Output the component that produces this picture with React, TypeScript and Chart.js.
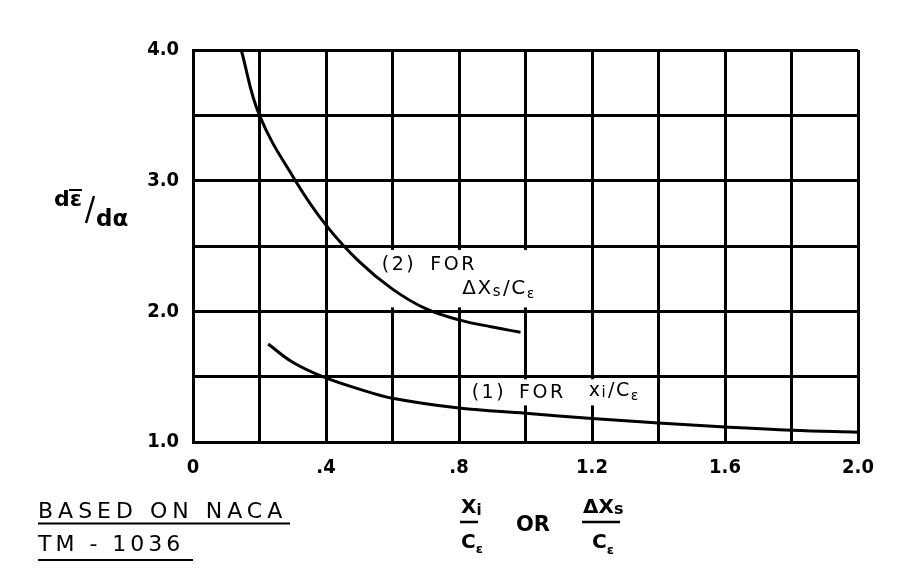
import React, { useEffect, useRef } from "react";
import { Chart, registerables } from "chart.js";

Chart.register(...registerables);

// ---- data ----
const curve2X = [0.145, 0.2, 0.308, 0.4, 0.5, 0.6, 0.7, 0.8, 0.9, 0.985];
const curve2Y = [4.0, 3.5, 3.0, 2.66, 2.38, 2.17, 2.02, 1.935, 1.88, 1.84];

const curve1X = [0.226, 0.3, 0.39, 0.5, 0.6, 0.8, 1.0, 1.2, 1.4, 1.6, 1.8, 2.0];
const curve1Y = [1.75, 1.61, 1.5, 1.405, 1.335, 1.26, 1.22, 1.18, 1.145, 1.115, 1.09, 1.075];

const xTickLabels = ["0", "", ".4", "", ".8", "", "1.2", "", "1.6", "", "2.0"];
const yTickLabels = ["1.0", "", "2.0", "", "3.0", "", "4.0"];

const FONT = "'DejaVu Sans', 'Liberation Sans', sans-serif";
const TICK_FONT = "'DejaVu Sans Condensed', 'DejaVu Sans', sans-serif";

type Part = { t: string; size: number; dy?: number; bold?: boolean; gap?: number };

function drawRich(ctx: CanvasRenderingContext2D, x: number, base: number, parts: Part[], spacing = 0) {
  let cx = x;
  ctx.save();
  ctx.fillStyle = "#000";
  ctx.textAlign = "left";
  ctx.textBaseline = "alphabetic";
  (ctx as any).letterSpacing = spacing + "px";
  for (const p of parts) {
    ctx.font = `${p.bold ? "bold " : ""}${p.size}px ${FONT}`;
    ctx.fillText(p.t, cx, base + (p.dy || 0));
    cx += ctx.measureText(p.t).width + (p.gap || 0);
  }
  ctx.restore();
  return cx;
}

const annotationPlugin = {
  id: "annots",
  beforeDatasetsDraw(chart: any) {
    const { ctx, scales } = chart;
    const xs = scales.x, ys = scales.y;
    ctx.save();
    ctx.fillStyle = "#fff";
    // clearing boxes behind curve labels (grid lines are broken there)
    const boxes = [
      [0.57, 1.02, 2.47, 2.03],
      [0.82, 1.385, 1.48, 1.28],
    ];
    for (const [x0, x1, y0, y1] of boxes) {
      const px0 = xs.getPixelForValue(x0), px1 = xs.getPixelForValue(x1);
      const py0 = ys.getPixelForValue(y0), py1 = ys.getPixelForValue(y1);
      ctx.fillRect(px0, py0, px1 - px0, py1 - py0);
    }
    ctx.restore();
  },
  afterDatasetsDraw(chart: any) {
    const { ctx, scales } = chart;
    const xs = scales.x, ys = scales.y;
    const px = (v: number) => xs.getPixelForValue(v);
    const py = (v: number) => ys.getPixelForValue(v);

    // curve (2) label
    drawRich(ctx, px(0.568), py(2.32), [{ t: "(2)", size: 19, gap: 14 }, { t: "FOR", size: 19 }], 2.5);
    drawRich(ctx, px(0.81), py(2.13), [
      { t: "ΔX", size: 20 },
      { t: "s", size: 15, dy: 2, gap: 1 },
      { t: "/C", size: 20 },
      { t: "ε", size: 14, dy: 4 },
    ], 1.5);

    // curve (1) label
    drawRich(ctx, px(0.838), py(1.335), [{ t: "(1)", size: 19, gap: 13 }, { t: "FOR", size: 19 }], 2.5);
    drawRich(ctx, px(1.19), py(1.355), [
      { t: "x", size: 19 },
      { t: "i", size: 15, dy: 1, gap: 1 },
      { t: "/C", size: 19 },
      { t: "ε", size: 14, dy: 4 },
    ], 1.5);

    ctx.save();
    ctx.strokeStyle = "#000";
    ctx.lineWidth = 2;

    // y axis title  dε̄/dα
    drawRich(ctx, 54, 206, [{ t: "d", size: 22, bold: true }, { t: "ε", size: 22, bold: true }]);
    ctx.beginPath();
    ctx.moveTo(69, 190);
    ctx.lineTo(82, 190);
    ctx.stroke();
    ctx.lineWidth = 2.5;
    ctx.beginPath();
    ctx.moveTo(94, 196);
    ctx.lineTo(86, 223);
    ctx.stroke();
    drawRich(ctx, 96, 226, [{ t: "dα", size: 23, bold: true }]);

    // x axis title fraction
    ctx.lineWidth = 2.5;
    drawRich(ctx, 461, 513, [{ t: "X", size: 20, bold: true }, { t: "i", size: 15, dy: 2, bold: true }]);
    ctx.beginPath();
    ctx.moveTo(460, 522);
    ctx.lineTo(478, 522);
    ctx.stroke();
    drawRich(ctx, 461, 548, [{ t: "C", size: 20, bold: true }, { t: "ε", size: 13, dy: 5, bold: true }]);
    drawRich(ctx, 516, 531, [{ t: "OR", size: 21, bold: true }]);
    drawRich(ctx, 583, 513, [{ t: "ΔX", size: 20, bold: true }, { t: "s", size: 16, dy: 1, bold: true }]);
    ctx.beginPath();
    ctx.moveTo(582, 522);
    ctx.lineTo(620, 522);
    ctx.stroke();
    drawRich(ctx, 592, 548, [{ t: "C", size: 20, bold: true }, { t: "ε", size: 13, dy: 6, bold: true }]);

    // source note
    drawRich(ctx, 38, 518, [{ t: "BASED ON NACA", size: 22 }], 5);
    ctx.lineWidth = 2;
    ctx.beginPath();
    ctx.moveTo(38, 523.5);
    ctx.lineTo(290, 523.5);
    ctx.stroke();
    drawRich(ctx, 38, 551, [{ t: "TM - 1036", size: 22 }], 4);
    ctx.beginPath();
    ctx.moveTo(38, 560);
    ctx.lineTo(193, 560);
    ctx.stroke();
    ctx.restore();
  },
};

export default function App() {
  const ref = useRef<HTMLCanvasElement | null>(null);

  useEffect(() => {
    document.body.style.margin = "0";
    document.body.style.background = "#fff";
    const canvas = ref.current;
    if (!canvas) return;
    const chart = new Chart(canvas, {
      type: "scatter",
      data: {
        datasets: [
          {
            label: "(2) for ΔXs/Cε",
            data: curve2X.map((x, i) => ({ x, y: curve2Y[i] })),
            showLine: true,
            borderColor: "#000",
            borderWidth: 3,
            pointRadius: 0,
            tension: 0.4,
            fill: false,
          },
          {
            label: "(1) for Xi/Cε",
            data: curve1X.map((x, i) => ({ x, y: curve1Y[i] })),
            showLine: true,
            borderColor: "#000",
            borderWidth: 3,
            pointRadius: 0,
            tension: 0.4,
            fill: false,
          },
        ],
      },
      options: {
        animation: false,
        responsive: false,
        devicePixelRatio: 1,
        layout: { padding: { top: 50, right: 51, left: 0, bottom: 0 } },
        plugins: { legend: { display: false }, tooltip: { enabled: false } },
        scales: {
          x: {
            type: "linear",
            min: 0,
            max: 2,
            afterFit: (s: any) => {
              s.height = 133;
            },
            ticks: {
              stepSize: 0.2,
              autoSkip: false,
              maxRotation: 0,
              padding: 14,
              color: "#000",
              font: { family: TICK_FONT, size: 20, weight: "bold" },
              callback: (_v: any, i: number) => xTickLabels[i] ?? "",
            },
            grid: { color: "#000", lineWidth: 3, drawTicks: false },
            border: { color: "#000", width: 3 },
          },
          y: {
            type: "linear",
            min: 1,
            max: 4,
            afterFit: (s: any) => {
              s.width = 193;
            },
            ticks: {
              stepSize: 0.5,
              autoSkip: false,
              padding: 14,
              color: "#000",
              font: { family: TICK_FONT, size: 20, weight: "bold" },
              callback: (_v: any, i: number) => yTickLabels[i] ?? "",
            },
            grid: { color: "#000", lineWidth: 3, drawTicks: false },
            border: { color: "#000", width: 3 },
          },
        },
      },
      plugins: [annotationPlugin],
    });
    return () => chart.destroy();
  }, []);

  return (
    <div style={{ width: 909, height: 575, background: "#fff" }}>
      <canvas ref={ref} width={909} height={575} style={{ display: "block" }} />
    </div>
  );
}
